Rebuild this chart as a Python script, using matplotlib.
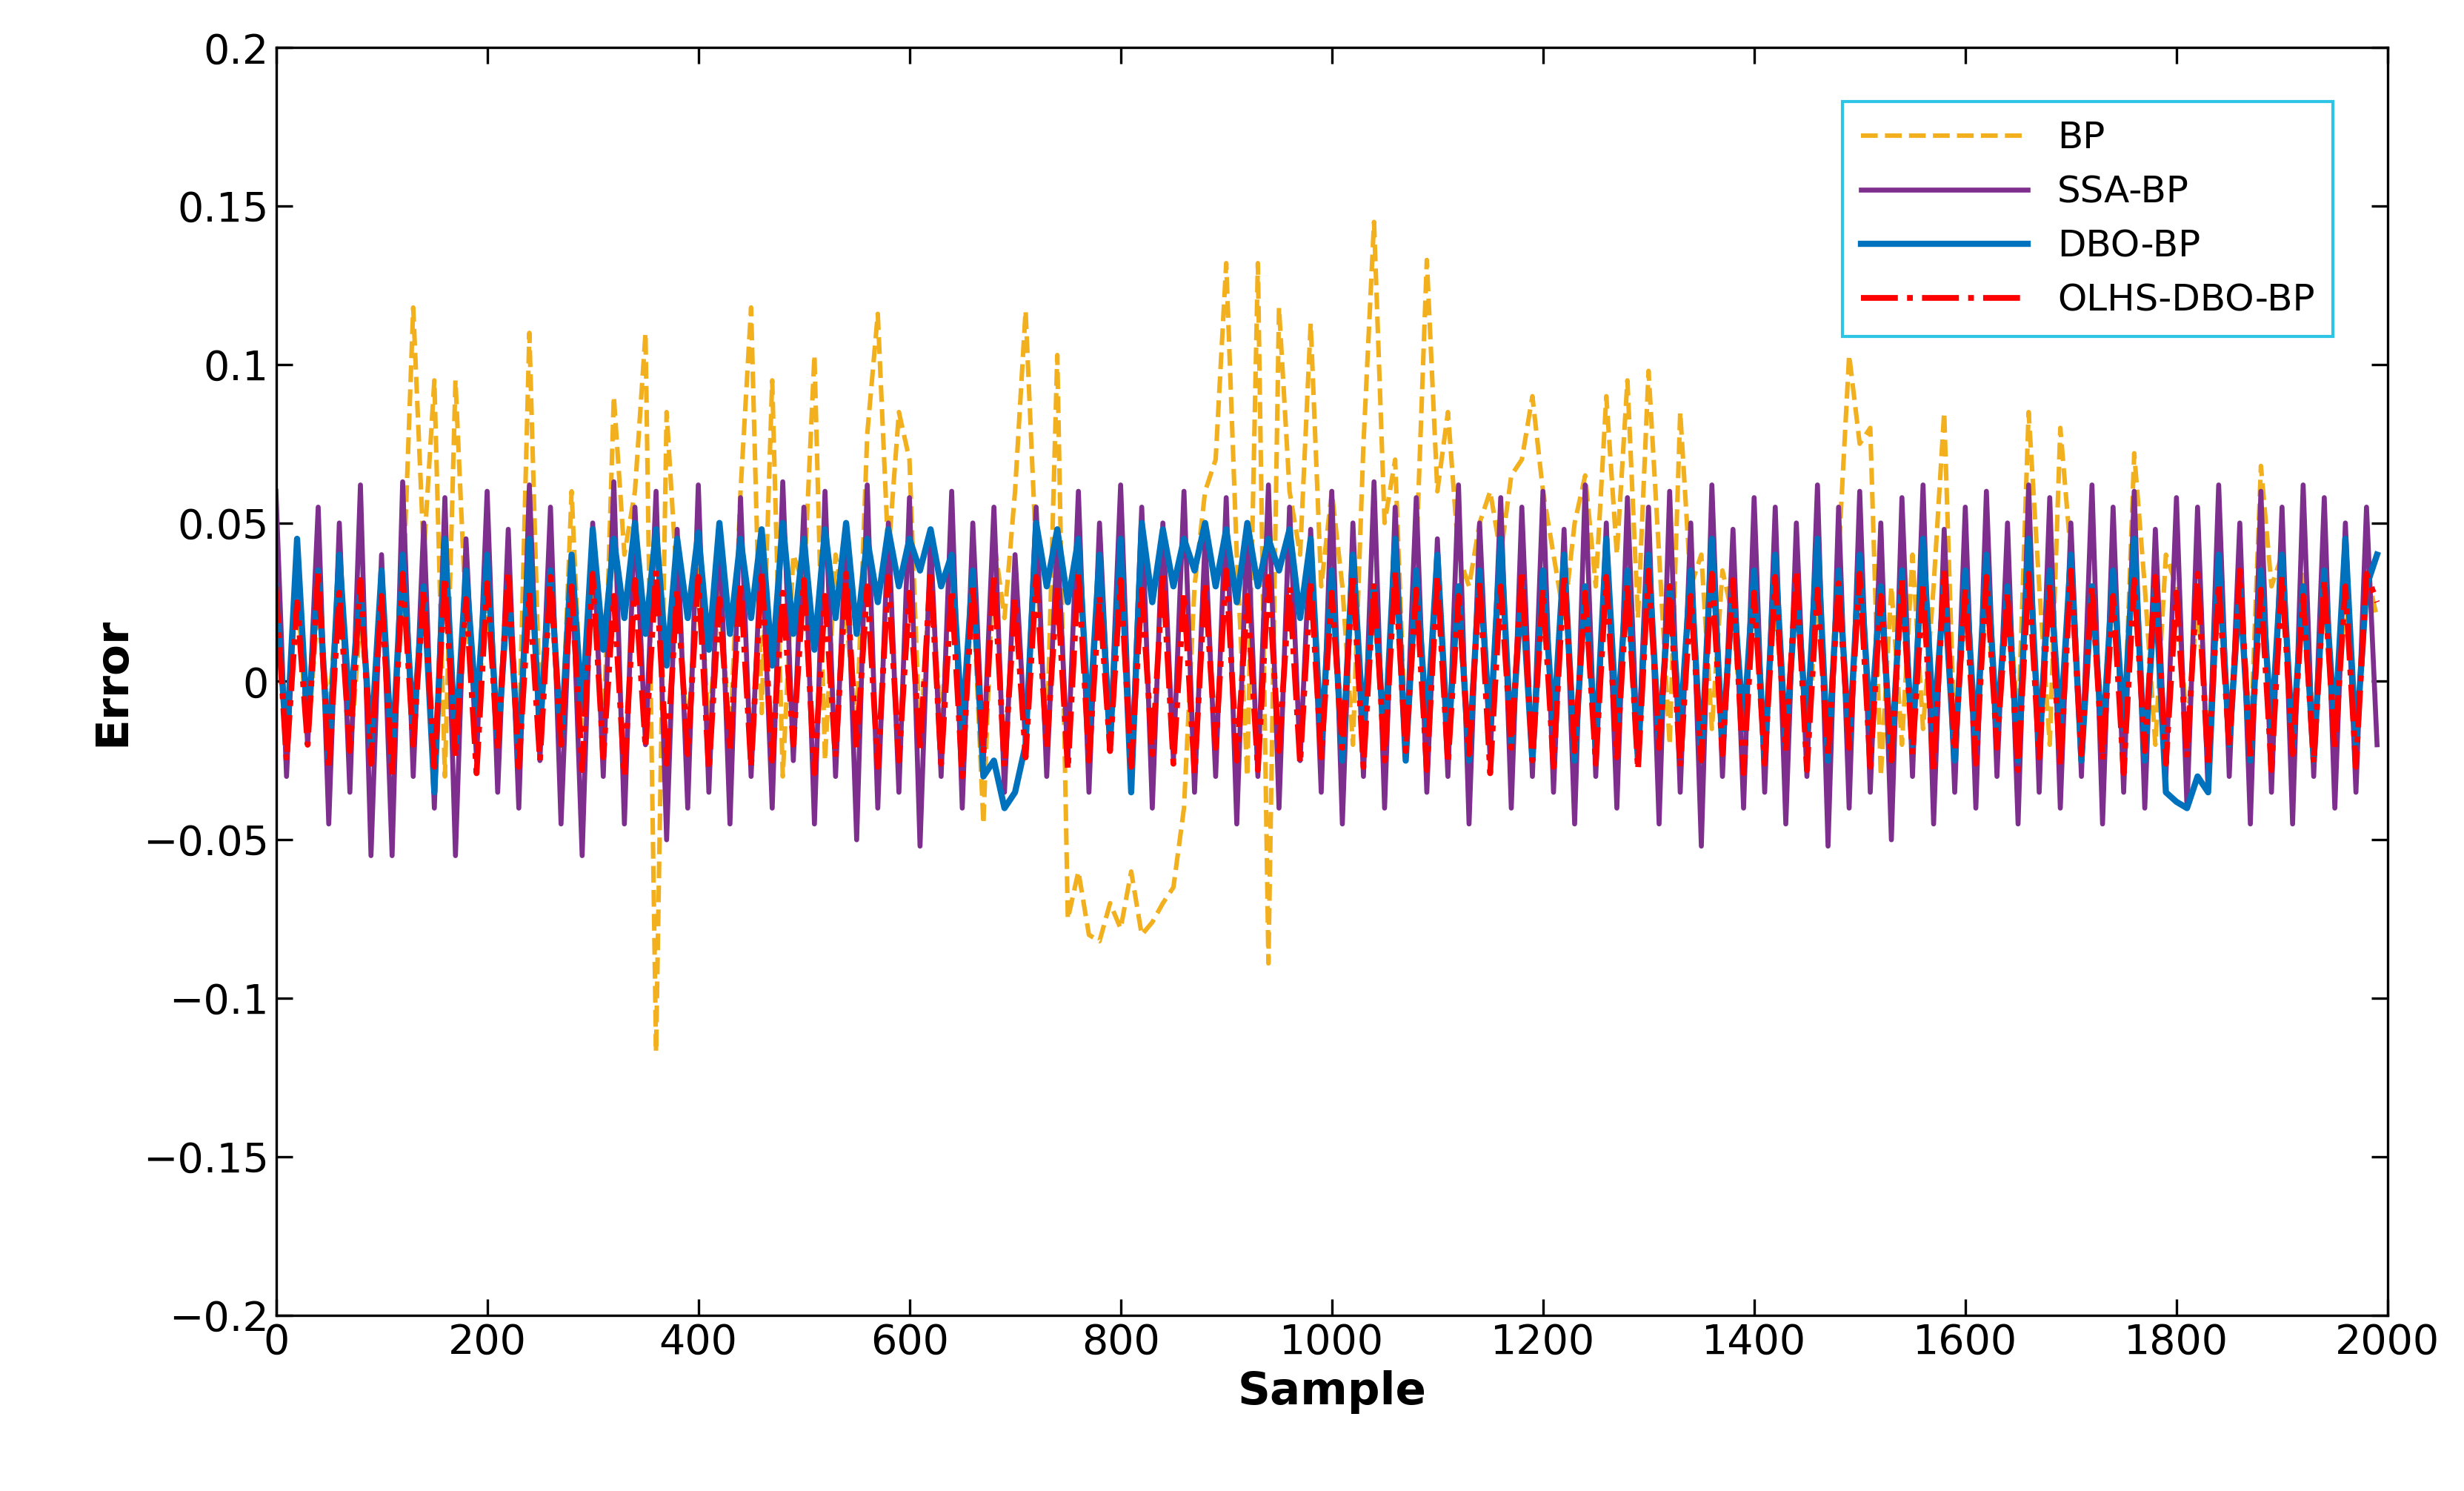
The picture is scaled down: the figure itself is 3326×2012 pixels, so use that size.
import matplotlib as mpl
import matplotlib.pyplot as plt
import numpy as np

mpl.use('Agg')

# sample positions (every 10 samples) and errors in thousandths
samples = list(range(0, 2000, 10))

bp = [20,-15,30,-20,25,-10,35,-25,20,-15,
      30,-20,25,118,40,95,-30,95,20,-10,
      25,-15,30,-20,110,-10,40,-25,60,-15,
      35,-20,90,40,60,110,-117,85,30,-20,
      40,-15,30,-20,60,118,-10,95,-30,40,
      30,103,-25,40,20,-15,78,116,40,85,
      70,-20,35,-15,40,-25,30,-45,45,20,
      60,117,40,-20,103,-75,-60,-80,-82,-70,
      -78,-60,-80,-76,-70,-65,-40,30,60,70,
      132,40,-30,132,-89,118,60,40,113,30,
      60,30,-20,75,145,50,70,-20,40,133,
      60,85,40,30,50,60,40,65,70,90,
      60,40,20,50,65,30,90,40,95,20,
      98,40,-20,85,30,40,-15,35,20,-20,
      30,-15,25,-20,35,-25,30,-20,40,103,
      75,80,-30,30,-20,40,-15,30,85,-20,
      40,-25,30,-20,35,-15,85,30,-20,80,
      40,-25,30,-15,35,-20,72,30,-20,40,
      30,-15,25,-20,30,-15,35,-20,68,30,
      40,-20,35,-15,30,-25,30,-20,35,20]

ssa_bp = [60,-30,45,-20,55,-45,50,-35,62,-55,
          40,-55,63,-30,50,-40,58,-55,45,-25,
          60,-35,48,-40,62,-25,55,-45,40,-55,
          50,-30,63,-45,55,-20,60,-50,48,-40,
          62,-35,50,-45,58,-30,45,-40,63,-25,
          55,-45,60,-30,48,-50,62,-40,50,-35,
          58,-52,45,-30,60,-40,50,-25,55,-35,
          40,-20,55,-30,45,-25,60,-35,50,-20,
          62,-30,55,-40,50,-25,60,-35,45,-30,
          58,-45,50,-30,62,-40,55,-25,48,-35,
          60,-45,50,-30,63,-40,55,-25,58,-35,
          45,-30,62,-45,50,-25,58,-40,55,-30,
          60,-35,48,-45,62,-30,50,-40,58,-25,
          55,-45,60,-35,50,-52,62,-30,48,-40,
          58,-35,55,-45,50,-30,62,-52,55,-40,
          60,-35,50,-50,58,-30,62,-45,48,-35,
          55,-40,60,-30,50,-45,62,-35,58,-40,
          50,-30,62,-45,55,-35,60,-40,48,-30,
          58,-40,55,-35,62,-30,50,-45,60,-35,
          55,-45,62,-30,58,-40,50,-35,55,-20]

dbo_bp = [30,-20,45,-15,35,-25,40,-10,30,-20,
          35,-25,40,-15,30,-35,45,-20,35,-10,
          40,-20,30,-25,45,-15,35,-20,40,-10,
          48,10,45,20,50,15,48,5,45,20,
          47,10,50,15,45,20,48,5,50,15,
          45,10,48,20,50,15,45,25,48,30,
          45,35,48,30,40,-15,35,-30,-25,-40,
          -35,-20,50,30,48,25,45,-15,40,-20,
          45,-35,50,25,48,30,45,35,50,30,
          48,25,50,30,45,35,48,20,45,-20,
          35,-25,40,-15,30,-20,45,-25,35,-15,
          40,-20,30,-25,35,-15,45,-20,30,-25,
          35,-15,40,-25,30,-20,45,-15,35,-25,
          40,-20,30,-15,35,-25,45,-20,30,-15,
          35,-25,40,-20,30,-15,45,-25,35,-20,
          40,-15,30,-25,35,-20,45,-15,30,-25,
          35,-20,40,-15,30,-25,45,-20,35,-15,
          40,-25,30,-20,35,-15,45,-25,30,-35,
          -38,-40,-30,-35,40,-20,30,-25,35,-15,
          40,-20,30,-25,35,-15,45,-20,30,40]

olhs_dbo_bp = [30,-25,25,-20,35,-28,28,-22,32,-26,
               27,-30,34,-20,29,-27,33,-24,26,-29,
               31,-22,35,-27,28,-25,33,-20,30,-28,
               34,-24,27,-30,32,-21,35,-26,29,-23,
               33,-28,26,-22,31,-27,35,-25,28,-20,
               32,-29,27,-24,34,-21,30,-27,33,-25,
               28,-22,35,-26,29,-30,31,-23,34,-27,
               26,-24,33,-21,30,-28,35,-25,27,-22,
               32,-27,29,-23,34,-26,28,-29,31,-21,
               35,-25,27,-28,33,-22,30,-26,32,-24,
               28,-21,34,-27,31,-25,35,-22,29,-28,
               33,-26,27,-23,32,-29,30,-21,35,-25,
               29,-27,34,-22,28,-26,33,-24,31,-28,
               35,-21,30,-27,27,-25,34,-23,32,-29,
               28,-26,33,-22,35,-28,29,-24,31,-21,
               34,-27,27,-25,32,-23,30,-29,35,-22,
               29,-26,33,-21,28,-28,34,-24,31,-27,
               35,-23,30,-25,27,-29,32,-22,33,-26,
               28,-24,34,-27,31,-21,35,-25,29,-28,
               33,-23,27,-26,32,-22,30,-27,34,25]

names = ["BP", "SSA-BP", "DBO-BP", "OLHS-DBO-BP"]
colors = ["#F2B01E", "#7E2F8E", "#0072BD", "#FF0000"]
styles = ["--", "-", "-", "-."]
widths = [2.2, 2.4, 3.0, 2.8]
series = [bp, ssa_bp, dbo_bp, olhs_dbo_bp]

fig = plt.figure(figsize=(16.63, 10.06), dpi=200)
ax = fig.add_axes([0.112, 0.118, 0.857, 0.85])

x = np.array(samples)
for s, c, ls, lw, nm in zip(series, colors, styles, widths, names):
    ax.plot(x, np.array(s) / 1000.0, ls, color=c, linewidth=lw, label=nm)

ax.set_xlim(0, 2000)
ax.set_ylim(-0.2, 0.2)
ax.set_xticks(range(0, 2001, 200))
yt = np.arange(-4, 5) * 0.05
ax.set_yticks(yt)
ylabels = []
for v in yt:
    v = round(v, 2)
    ylabels.append("0" if v == 0 else ("%g" % v).replace("-", "\u2212"))
ax.set_yticklabels(ylabels)
ax.tick_params(direction='in', length=8, width=1.2, labelsize=20, top=True, right=True)
for sp in ax.spines.values():
    sp.set_linewidth(1.2)

ax.set_xlabel("Sample", fontsize=22, fontweight='bold')
ax.set_ylabel("Error", fontsize=22, fontweight='bold')

leg = ax.legend(loc='upper right', bbox_to_anchor=(0.983, 0.972), fontsize=18,
                fancybox=False, framealpha=1, handlelength=4.5, borderpad=0.5)
leg.get_frame().set_edgecolor("#2EC4E6")
leg.get_frame().set_linewidth(1.5)

plt.savefig("out.png", dpi=200)
